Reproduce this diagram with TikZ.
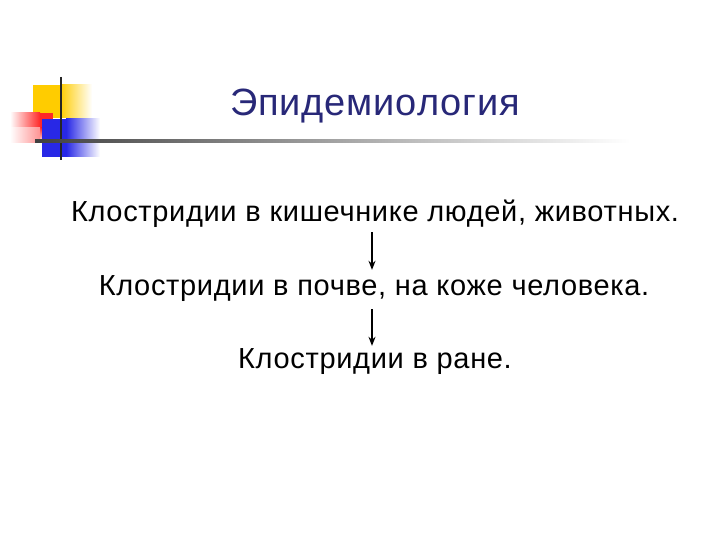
\documentclass[tikz,border=0pt]{standalone}
\usepackage{fontspec}
\setmainfont{Liberation Sans}[LetterSpace=2.3]
\usetikzlibrary{arrows.meta}
\definecolor{titleblue}{RGB}{40,40,120}
\definecolor{logoyellow}{RGB}{255,204,0}
\definecolor{logored}{RGB}{255,40,40}
\definecolor{logoblue}{RGB}{40,40,230}
\tikzset{
	line/.style={font=\fontsize{29}{34}\selectfont, inner sep=0pt, anchor=base},
	flow/.style={-{Stealth[length=9pt,width=7pt]}, line width=2pt}
}

\begin{document}
\begin{tikzpicture}[x=1pt,y=-1pt]
		\useasboundingbox[fill=white] (0,0) rectangle (720,540);
		
		%logo
		\fill[logoyellow] (33,85) rectangle (60,118);
		\shade[left color=logoyellow, right color=white] (60,85) rectangle (92,118);
		\fill[logored] (40,113) rectangle (53,128);
		\shade[top color=logored, bottom color=white] (40,128) rectangle (53,143);
		\shade[right color=logored, left color=white] (10,113) rectangle (40,128);
		\shade[right color=logored!50!white, left color=white] (10,128) rectangle (40,143);
		\fill[logoblue] (42,119) rectangle (66,157);
		\shade[left color=logoblue, right color=white] (66,119) rectangle (100,157);
		\draw[line width=2.5pt, black!85] (61,77) -- (61,160);
		
		%rule under title
		\shade[left color=black!75, right color=black!25] (35,140) rectangle (420,142.5);
		\shade[left color=black!25, right color=white] (420,140) rectangle (630,142.5);
		
		%title
		\node[font=\fontsize{38}{44}\selectfont, text=titleblue, inner sep=0pt, anchor=base] (title) at (375,116) {Эпидемиология};
		
		%lines
		\node[line] (l1) at (375,222) {Клостридии в кишечнике людей, животных.};
		\node[line] (l2) at (374,295) {Клостридии в почве, на коже человека.};
		\node[line] (l3) at (375,368) {Клостридии в ране.};
		
		%arrows
		\coordinate (ax) at (372,0);
		\draw[flow, shorten <=4pt, shorten >=5pt] (l1.south -| ax) -- (l2.north -| ax);
		\draw[flow, shorten <=8pt, shorten >=2pt] (l2.south -| ax) -- (l3.north -| ax);
\end{tikzpicture}
\end{document}
